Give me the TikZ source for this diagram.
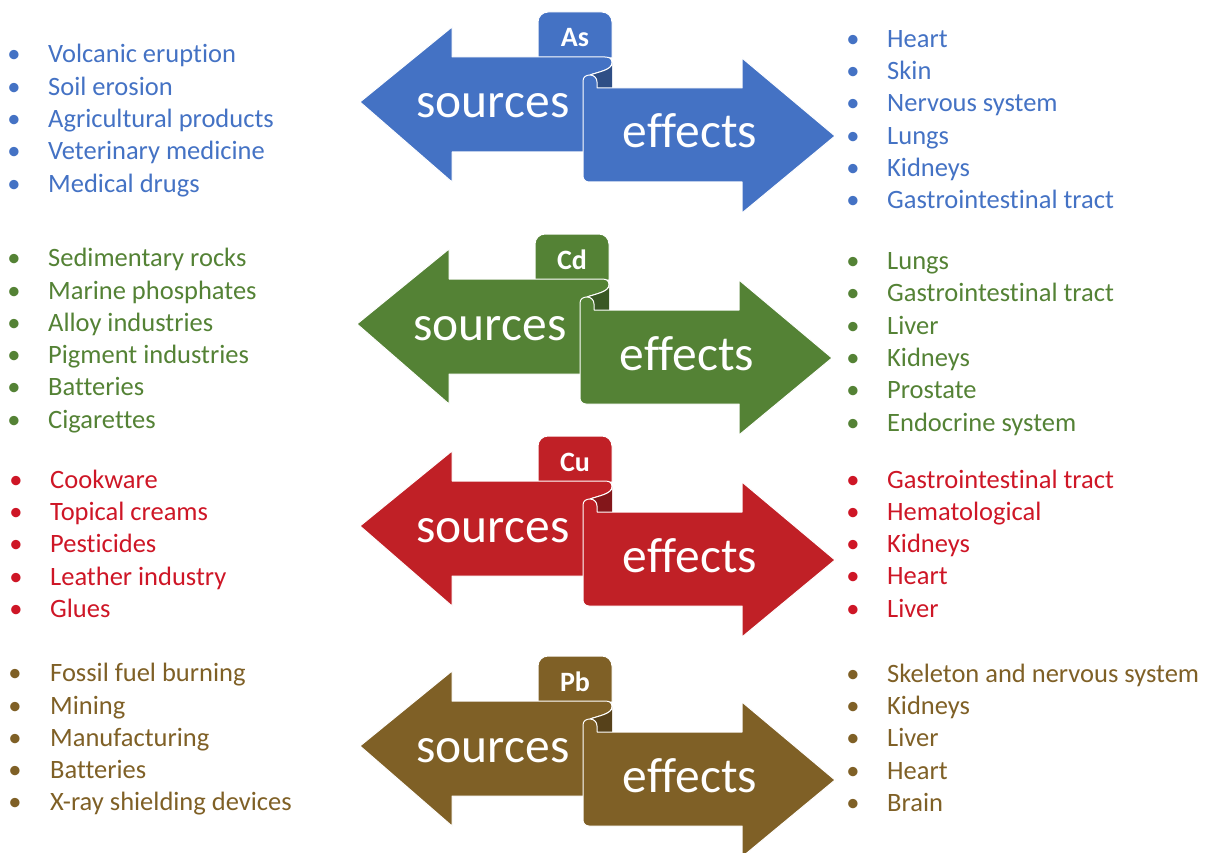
\documentclass[tikz,border=0pt]{standalone}
\usepackage{fontspec}
\setmainfont{Carlito}[Ligatures=NoCommon]
\definecolor{cAs}{RGB}{68,114,196}
\definecolor{cCd}{RGB}{84,130,53}
\definecolor{cCu}{RGB}{192,32,38}
\definecolor{tCu}{RGB}{206,22,38}
\definecolor{cPb}{RGB}{127,96,38}
\tikzset{
  itemtext/.style={inner sep=0pt, font=\fontsize{26.5}{30}\selectfont},
  bigtext/.style={inner sep=0pt, text=white, font=\fontsize{49.5}{50}\selectfont},
  tabtext/.style={inner sep=0pt, text=white, font=\fontsize{28}{28}\selectfont\bfseries},
  shapeline/.style={draw=white, line width=1pt, line join=round}
}
% #1 name, #2 dx, #3 dy, #4 colour, #5 tab label
\newcommand\arrowpair[5]{%
  \begin{scope}[shift={(#2,#3)}]
    \path[fill=#4, shapeline, rounded corners=10pt] (538,58) -- (538,12) -- (612,12) [sharp corners] -- (612,58) -- cycle;
    \path[fill=#4, shapeline] (360,102) -- (452,27) -- (452,57) -- (605,57)
      .. controls (610,57) and (612,59) .. (612,63)
      .. controls (612,70) and (598,72) .. (590,75) -- (590,152) -- (452,152) -- (452,182) -- cycle;
    \fill[#4!68!black] (590,75) .. controls (598,72) and (612,70) .. (612,63) -- (612,88) -- (590,88) -- cycle;
    \draw[white, line width=1pt] (612,63) .. controls (612,70) and (598,72) .. (590,75);
    \path[fill=#4, shapeline] (597,88) -- (742,88) -- (742,58) -- (835,136) -- (742,213) -- (742,182) -- (589,182)
      .. controls (585.5,182) and (583,179.5) .. (583,176) -- (583,81)
      .. controls (583,77) and (586,75) .. (590,75)
      .. controls (594,75) and (597,78) .. (597,82) -- cycle;
    \node[tabtext, anchor=base] (#1tab) at (575,47) {#5};
    \node[bigtext, anchor=base] (#1src) at (493,118) {sources};
    \node[bigtext, anchor=base] (#1eff) at (690,148) {effects};
  \end{scope}}
% #1 name, #2 bullet x, #3 text x, #4 first baseline, #5 colour, #6 items
\newcommand\itemlist[6]{%
  \foreach \t [count=\i] in {#6} {
    \node[itemtext, text=#5, anchor=base] (#1b\i) at (#2, {#4+32.3*(\i-1)}) {•};
    \node[itemtext, text=#5, anchor=base west] (#1t\i) at (#3, {#4+32.3*(\i-1)}) {\t};
  }}
\begin{document}
\begin{tikzpicture}[x=1pt, y=-1pt]
  \useasboundingbox (0,0) rectangle (1215,853);
  \arrowpair{As}{0}{0}{cAs}{As}
  \arrowpair{Cd}{-3}{222}{cCd}{Cd}
  \arrowpair{Cu}{0}{424}{cCu}{Cu}
  \arrowpair{Pb}{0}{644}{cPb}{Pb}
  \itemlist{AsL}{14}{48}{63}{cAs}{Volcanic eruption, Soil erosion, Agricultural products, Veterinary medicine, Medical drugs}
  \itemlist{AsR}{853}{887}{47.3}{cAs}{Heart, Skin, Nervous system, Lungs, Kidneys, Gastrointestinal tract}
  \itemlist{CdL}{14}{48}{266.7}{cCd}{Sedimentary rocks, Marine phosphates, Alloy industries, Pigment industries, Batteries, Cigarettes}
  \itemlist{CdR}{853}{887}{269.5}{cCd}{Lungs, Gastrointestinal tract, Liver, Kidneys, Prostate, Endocrine system}
  \itemlist{CuL}{16}{50}{488.3}{tCu}{Cookware, Topical creams, Pesticides, Leather industry, Glues}
  \itemlist{CuR}{853}{887}{488}{tCu}{Gastrointestinal tract, Hematological, Kidneys, Heart, Liver}
  \itemlist{PbL}{15}{50}{681.7}{cPb}{Fossil fuel burning, Mining, Manufacturing, Batteries, X-ray shielding devices}
  \itemlist{PbR}{853}{887}{682.3}{cPb}{Skeleton and nervous system, Kidneys, Liver, Heart, Brain}
\end{tikzpicture}
\end{document}
